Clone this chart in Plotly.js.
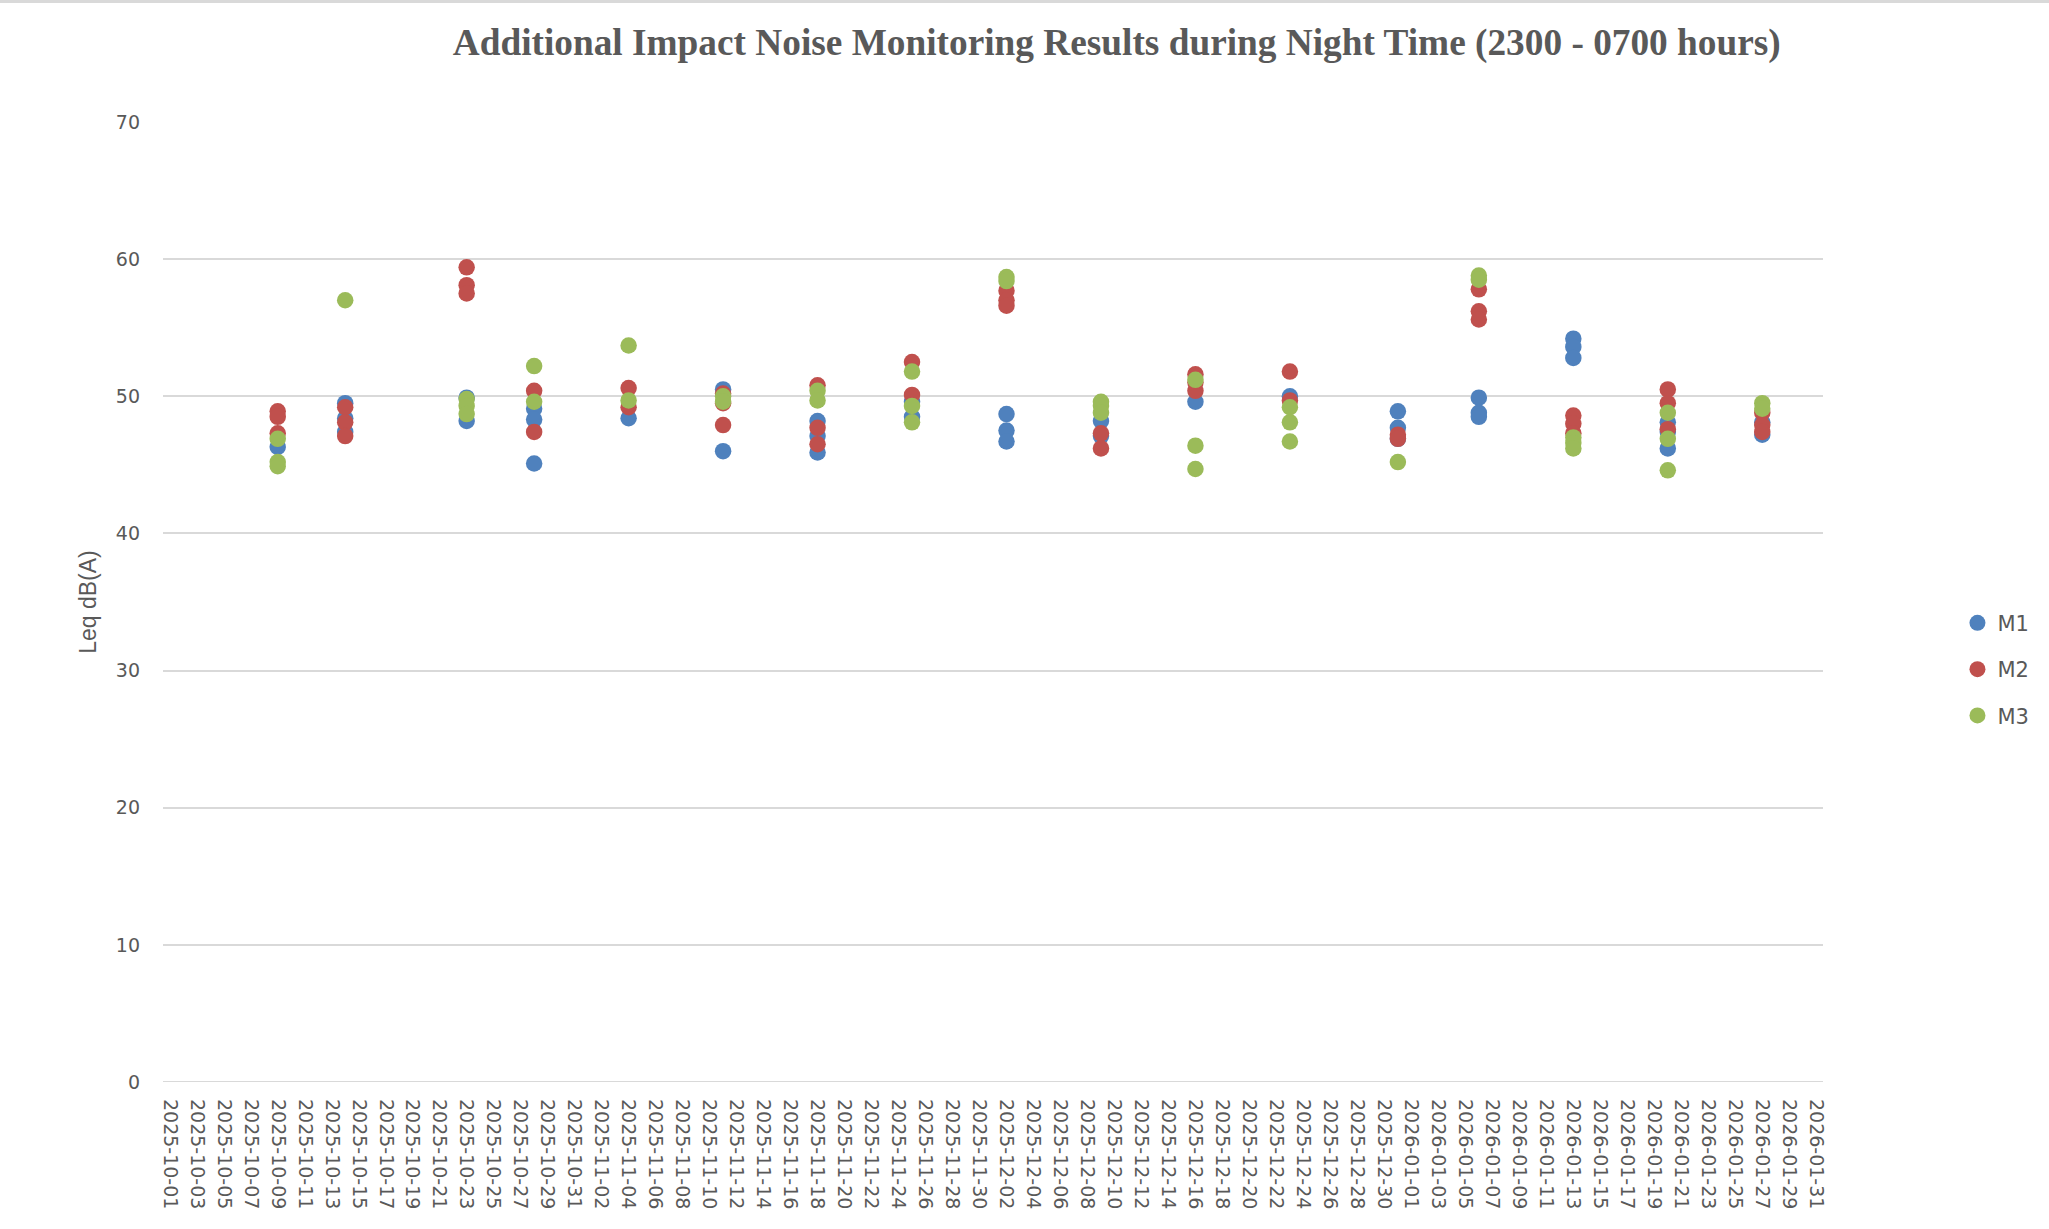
<!DOCTYPE html>
<html>
<head>
<meta charset="utf-8">
<script src="https://cdn.plot.ly/plotly-3.0.1.min.js"></script>
<style>html,body{margin:0;padding:0;background:#fff;}#chart{width:2049px;height:1229px;}</style>
</head>
<body>
<div id="chart"></div>
<script>
// Monitoring dates (x) and Leq dB(A) values per station
const m1Dates = ['2025-10-09','2025-10-14','2025-10-14','2025-10-14','2025-10-23','2025-10-23','2025-10-28','2025-10-28','2025-10-28','2025-11-04','2025-11-11','2025-11-11','2025-11-18','2025-11-18','2025-11-18','2025-11-25','2025-11-25','2025-12-02','2025-12-02','2025-12-02','2025-12-09','2025-12-09','2025-12-16','2025-12-23','2025-12-31','2025-12-31','2025-12-31','2026-01-06','2026-01-06','2026-01-06','2026-01-13','2026-01-13','2026-01-13','2026-01-20','2026-01-20','2026-01-20','2026-01-27','2026-01-27'];
const m1Values = [46.3,49.5,48.4,47.4,49.9,48.2,49.1,48.3,45.1,48.4,50.5,46.0,48.2,47.1,45.9,49.6,48.5,48.7,47.5,46.7,48.2,47.1,49.6,50.0,48.9,47.7,46.9,49.9,48.8,48.5,54.2,53.6,52.8,48.1,47.4,46.2,48.1,47.2];

const m2Dates = ['2025-10-09','2025-10-09','2025-10-09','2025-10-14','2025-10-14','2025-10-14','2025-10-23','2025-10-23','2025-10-23','2025-10-28','2025-10-28','2025-11-04','2025-11-04','2025-11-11','2025-11-11','2025-11-11','2025-11-18','2025-11-18','2025-11-18','2025-11-25','2025-11-25','2025-12-02','2025-12-02','2025-12-02','2025-12-09','2025-12-09','2025-12-16','2025-12-16','2025-12-16','2025-12-23','2025-12-23','2025-12-31','2025-12-31','2026-01-06','2026-01-06','2026-01-06','2026-01-13','2026-01-13','2026-01-13','2026-01-20','2026-01-20','2026-01-20','2026-01-27','2026-01-27','2026-01-27'];
const m2Values = [48.9,48.5,47.3,49.2,48.1,47.1,59.4,58.1,57.5,50.4,47.4,50.6,49.2,50.2,49.5,47.9,50.8,47.7,46.5,52.5,50.1,57.7,57.0,56.6,47.3,46.2,51.6,51.0,50.4,51.8,49.7,47.2,46.9,57.8,56.2,55.6,48.6,48.0,47.3,50.5,49.5,47.6,48.8,47.9,47.4];

const m3Dates = ['2025-10-09','2025-10-09','2025-10-09','2025-10-14','2025-10-23','2025-10-23','2025-10-23','2025-10-28','2025-10-28','2025-11-04','2025-11-04','2025-11-11','2025-11-11','2025-11-18','2025-11-18','2025-11-25','2025-11-25','2025-11-25','2025-12-02','2025-12-02','2025-12-09','2025-12-09','2025-12-09','2025-12-16','2025-12-16','2025-12-16','2025-12-23','2025-12-23','2025-12-23','2025-12-31','2026-01-06','2026-01-06','2026-01-13','2026-01-13','2026-01-13','2026-01-20','2026-01-20','2026-01-20','2026-01-27','2026-01-27'];
const m3Values = [46.9,45.2,44.9,57.0,49.8,49.3,48.7,52.2,49.6,53.7,49.7,50.0,49.6,50.4,49.7,51.8,49.3,48.1,58.7,58.4,49.6,49.3,48.8,51.2,46.4,44.7,49.2,48.1,46.7,45.2,58.8,58.5,47.0,46.6,46.2,48.8,46.9,44.6,49.5,49.1];

const seriesNames = ['M1','M2','M3'];
const seriesColors = ['#4F81BD','#C0504D','#9BBB59'];
const yTickValues = [0,10,20,30,40,50,60,70];

const xs = [m1Dates, m2Dates, m3Dates];
const ys = [m1Values, m2Values, m3Values];

const traces = seriesNames.map((name, i) => ({
  type: 'scatter',
  mode: 'markers',
  name: name,
  legendgroup: name,
  x: xs[i],
  y: ys[i],
  marker: {color: seriesColors[i], size: 16.5, line: {width: 0}},
  hoverinfo: 'x+y+name'
}));

const layout = {
  width: 2049,
  height: 1229,
  paper_bgcolor: '#ffffff',
  plot_bgcolor: '#ffffff',
  margin: {l: 163, r: 226, t: 122, b: 147, pad: 0},
  showlegend: true,
  title: {
    text: 'Additional Impact Noise Monitoring Results during Night Time (2300 - 0700 hours)',
    font: {family: 'Liberation Serif, Times New Roman, serif', size: 37.3, color: '#595959', weight: 'bold'},
    x: 0.545, xanchor: 'center', xref: 'container',
    y: 0.966, yanchor: 'middle', yref: 'container'
  },
  xaxis: {
    type: 'date',
    range: ['2025-09-30 12:00', '2026-01-31 12:00'],
    tick0: '2025-10-01',
    dtick: 2 * 86400000,
    tickformat: '%Y-%m-%d',
    tickangle: 90,
    ticks: '',
    ticklabelstandoff: 16,
    showgrid: false,
    zeroline: false,
    showline: false,
    tickfont: {family: 'DejaVu Sans, sans-serif', size: 19, color: '#595959'},
    fixedrange: true
  },
  yaxis: {
    range: [0, 70],
    tickvals: yTickValues,
    ticks: '',
    ticklabelstandoff: 22,
    showgrid: true,
    gridcolor: '#D9D9D9',
    gridwidth: 2,
    zeroline: false,
    showline: false,
    tickfont: {family: 'DejaVu Sans, sans-serif', size: 19, color: '#595959'},
    title: {text: 'Leq dB(A)', font: {family: 'Liberation Sans Narrow, Liberation Sans, sans-serif', size: 23, color: '#595959'}, standoff: 12},
    fixedrange: true
  },
  legend: {
    x: 1.081, xanchor: 'left',
    y: 0.43, yanchor: 'middle',
    font: {family: 'DejaVu Sans, sans-serif', size: 21, color: '#595959'},
    traceorder: 'grouped',
    tracegroupgap: 16,
    itemwidth: 30,
    bgcolor: 'rgba(0,0,0,0)'
  },
  shapes: [
    {type: 'line', xref: 'paper', yref: 'paper', x0: -0.2, x1: 1.2, y0: 1.1255, y1: 1.1255, line: {color: '#D9D9D9', width: 3}},
    {type: 'line', xref: 'paper', yref: 'y', x0: 0, x1: 1, y0: 0, y1: 0, line: {color: '#D9D9D9', width: 2}, layer: 'below'}
  ]
};

Plotly.newPlot('chart', traces, layout, {displayModeBar: false, staticPlot: true});
</script>
</body>
</html>
